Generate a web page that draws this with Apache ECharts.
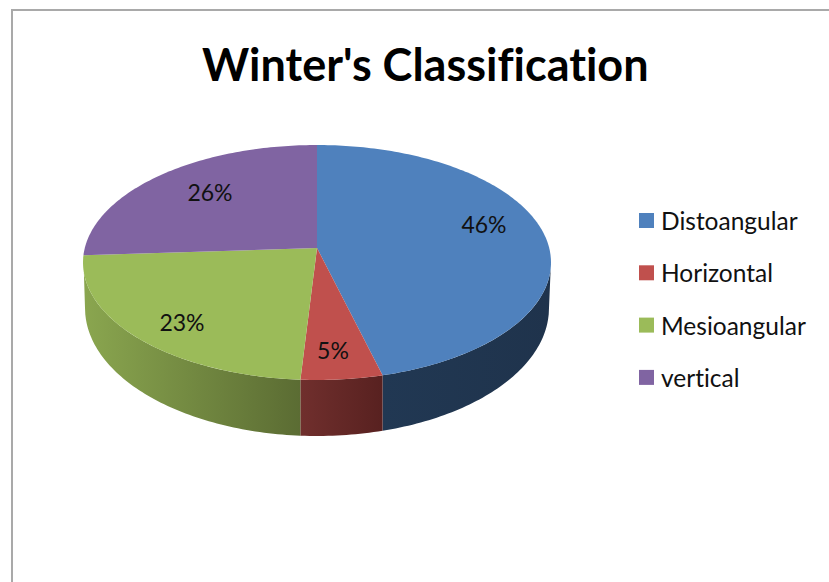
<!DOCTYPE html>
<html>
<head>
<meta charset="utf-8">
<style>
  html, body { margin: 0; padding: 0; background: #fff; }
  #chart { width: 829px; height: 582px; }
  #chart text { font-variant-ligatures: none; }
</style>
<script src="https://cdn.jsdelivr.net/npm/echarts@6/dist/echarts.min.js"></script>
</head>
<body>
<div id="chart"></div>
<script>
const categories = ['Distoangular', 'Horizontal', 'Mesioangular', 'vertical']
const values = [46, 5, 23, 26]
const colors = ['#4f81bd', '#c0504d', '#9bbb59', '#8064a2']
const sideColors = [
  ['#213853', '#1f334c'],
  ['#702f2d', '#582120'],
  ['#8aa64f', '#5b6c33'],
  ['#5c4875', '#4a3a60']
]
// where excel put the percent labels
const labelPos = [[484, 224], [333, 350], [182, 322], [210, 192]]

// tilted disc, perspective projection of the unit circle
const cx = 317
const cy = 248
const B = 232.2
const A = 115.7
const k = 0.1234
// lower rim of the disc
const rimRx = 232
const rimCy = 308
const rimRy = 128
// part of the rim that faces the viewer, degrees clockwise from 12
const frontFrom = 100
const frontTo = 258

const total = values.reduce((a, b) => a + b, 0)

function project (deg, r) {
  const t = deg * Math.PI / 180
  const u = Math.sin(t) * r
  const v = -Math.cos(t) * r
  const d = 1 - k * v
  return [cx + B * u / d, cy + A * v / d]
}

function arc (from, to) {
  const pts = []
  const n = Math.max(2, Math.ceil((to - from) / 1))
  for (let i = 0; i <= n; i++) {
    pts.push(project(from + (to - from) * i / n, 1))
  }
  return pts
}

function lower (p) {
  const x = Math.min(cx + rimRx, Math.max(cx - rimRx, p[0]))
  const s = (x - cx) / rimRx
  return [x, rimCy + rimRy * Math.sqrt(1 - s * s)]
}

function renderSlice (index) {
  return function () {
    let before = 0
    for (let i = 0; i < index; i++) before += values[i]
    const from = before / total * 360
    const to = (before + values[index]) / total * 360
    const children = []

    const a = Math.max(from, frontFrom)
    const b = Math.min(to, frontTo)
    if (a < b) {
      const top = arc(a, b)
      const bottom = top.map(lower).reverse()
      children.push({
        type: 'polygon',
        shape: { points: top.concat(bottom) },
        style: {
          fill: new echarts.graphic.LinearGradient(0, 0, 1, 0, [
            { offset: 0, color: sideColors[index][0] },
            { offset: 1, color: sideColors[index][1] }
          ])
        }
      })
    }
    children.push({
      type: 'polygon',
      shape: { points: [[cx, cy]].concat(arc(from, to)) },
      style: { fill: colors[index] }
    })
    children.push({
      type: 'text',
      z2: 10,
      style: {
        text: values[index] + '%',
        x: labelPos[index][0],
        y: labelPos[index][1],
        align: 'center',
        verticalAlign: 'middle',
        fill: '#111',
        font: '23px Lato, "Open Sans", sans-serif'
      }
    })
    return { type: 'group', children: children }
  }
}

const chart = echarts.init(document.getElementById('chart'), null, { renderer: 'svg' })
chart.setOption({
  animation: false,
  backgroundColor: '#fff',
  title: {
    text: "Winter's Classification",
    left: 197,
    top: 36,
    textStyle: { fontFamily: 'Lato', fontWeight: 'bold', fontSize: 45, color: '#000' }
  },
  legend: {
    orient: 'vertical',
    left: 634,
    top: 203,
    itemWidth: 15,
    itemHeight: 15,
    itemGap: 27.3,
    icon: 'rect',
    data: categories,
    textStyle: { fontFamily: 'Lato', fontSize: 24.5, color: '#111', padding: [0, 0, 0, 2] }
  },
  graphic: [{
    type: 'polyline',
    shape: { points: [[12, 582], [12, 10], [829, 10]] },
    style: { stroke: '#a9a9a9', lineWidth: 2, fill: null },
    silent: true
  }],
  series: categories.map((name, i) => ({
    name: name,
    type: 'custom',
    coordinateSystem: 'none',
    itemStyle: { color: colors[i] },
    data: [values[i]],
    renderItem: renderSlice(i)
  }))
})
</script>
</body>
</html>
